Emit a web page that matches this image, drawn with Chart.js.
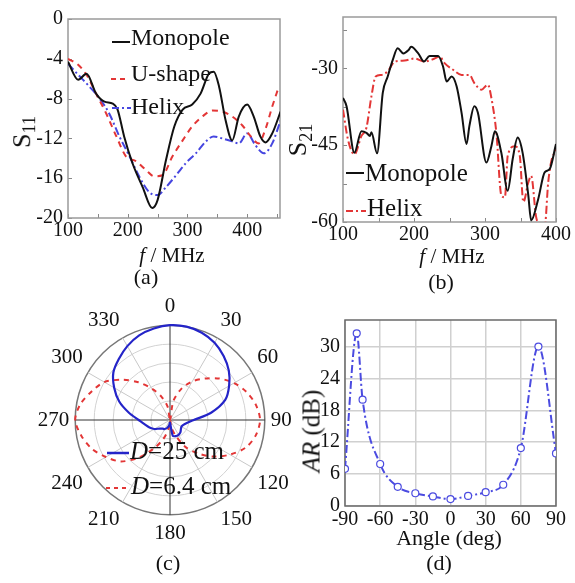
<!DOCTYPE html>
<html lang="en">
<head>
<meta charset="UTF-8">
<title>Antenna measurements</title>
<script src="https://cdn.jsdelivr.net/npm/chart.js"></script>
<style>
  body { margin: 0; background: white; }
  #fig { position: relative; width: 575px; height: 583px; overflow: hidden;
         font-family: 'Liberation Serif', 'Times New Roman', serif; color: #111; }
  canvas { position: absolute; }
  .t { position: absolute; white-space: nowrap; line-height: 1; transform: translate(-50%, -50%); }
  .l { position: absolute; white-space: nowrap; line-height: 1; transform: translateY(-50%); }
  .rot { transform: translate(-50%, -50%) rotate(-90deg); }
  .sw { position: absolute; overflow: visible; }
  sub { font-size: 70%; vertical-align: -0.3em; }
</style>
</head>
<body>
<div id="fig">
  <canvas id="ca" width="290" height="245" style="left:0;top:0"></canvas>
  <canvas id="cb" width="290" height="250" style="left:285px;top:0"></canvas>
  <canvas id="cc" width="300" height="252" style="left:15px;top:294px"></canvas>
  <canvas id="cd" width="285" height="235" style="left:290px;top:300px"></canvas>

  <!-- (a) -->
  <div class="t rot" style="left:24px;top:132px;font-size:26px">S<sub>11</sub></div>
  <div class="t" style="left:172px;top:255px;font-size:21px"><i>f</i> / MHz</div>
  <div class="t" style="left:146px;top:277px;font-size:22px">(a)</div>
  <svg class="sw" style="left:112px;top:39px" width="18" height="6"><line x1="0" y1="3" x2="18" y2="3" stroke="#111" stroke-width="2"/></svg>
  <div class="l" style="left:131px;top:37px;font-size:24px">Monopole</div>
  <svg class="sw" style="left:111px;top:76px" width="18" height="6"><line x1="0" y1="3" x2="18" y2="3" stroke="#e33636" stroke-width="2" stroke-dasharray="5,4"/></svg>
  <div class="l" style="left:131px;top:73px;font-size:24px">U-shape</div>
  <svg class="sw" style="left:112px;top:105px" width="19" height="6"><line x1="0" y1="3" x2="19" y2="3" stroke="#4646e0" stroke-width="2" stroke-dasharray="7,3,2,3"/></svg>
  <div class="l" style="left:131px;top:106px;font-size:24px">Helix</div>

  <!-- (b) -->
  <div class="t rot" style="left:300px;top:140px;font-size:26px">S<sub>21</sub></div>
  <div class="t" style="left:452px;top:256px;font-size:21px"><i>f</i> / MHz</div>
  <div class="t" style="left:441px;top:282px;font-size:22px">(b)</div>
  <svg class="sw" style="left:346px;top:170px" width="18" height="6"><line x1="0" y1="3" x2="18" y2="3" stroke="#111" stroke-width="2"/></svg>
  <div class="l" style="left:365px;top:172px;font-size:25px">Monopole</div>
  <svg class="sw" style="left:346px;top:208px" width="20" height="6"><line x1="0" y1="3" x2="20" y2="3" stroke="#e33636" stroke-width="2" stroke-dasharray="7,3,2,3"/></svg>
  <div class="l" style="left:367px;top:207px;font-size:25px">Helix</div>

  <!-- (c) -->
  <svg class="sw" style="left:107px;top:450px" width="22" height="6"><line x1="0" y1="3" x2="22" y2="3" stroke="#2424c8" stroke-width="2.5"/></svg>
  <div class="l" style="left:130px;top:450px;font-size:25px"><i>D</i>=25 cm</div>
  <svg class="sw" style="left:106px;top:485px" width="22" height="6"><line x1="0" y1="3" x2="22" y2="3" stroke="#e33636" stroke-width="2" stroke-dasharray="4,4"/></svg>
  <div class="l" style="left:131px;top:485px;font-size:25px"><i>D</i>=6.4 cm</div>
  <div class="t" style="left:168px;top:563px;font-size:22px">(c)</div>

  <!-- (d) -->
  <div class="t rot" style="left:311px;top:431px;font-size:25px"><i>AR</i> (dB)</div>
  <div class="t" style="left:449px;top:538px;font-size:22px">Angle (deg)</div>
  <div class="t" style="left:439px;top:563px;font-size:22px">(d)</div>
</div>

<script>
// (a) S11 vs frequency
const monoF = [100, 117, 131, 147, 161, 175, 183, 194, 208, 225, 241, 250, 264, 278, 292, 308, 322, 336, 344, 353, 364, 375, 386, 400, 411, 422, 431, 442, 456];
const monoS11 = [-4.3, -6.1, -5.5, -7.5, -8.3, -8.5, -9.1, -11.8, -14.5, -16.9, -19.0, -18.2, -14.2, -10.8, -9.1, -8.6, -7.5, -5.5, -5.3, -6.8, -10.2, -12.2, -9.8, -8.6, -9.8, -11.8, -12.4, -11.5, -9.3];
const ushapeF = [100, 117, 133, 147, 164, 181, 197, 214, 231, 244, 258, 275, 292, 308, 325, 342, 358, 375, 392, 406, 419, 431, 442, 453];
const ushapeS11 = [-4.0, -4.6, -5.8, -7.5, -9.5, -11.8, -13.8, -14.3, -15.2, -15.8, -15.7, -13.8, -12.2, -10.8, -9.8, -9.2, -9.3, -9.8, -10.7, -11.8, -12.5, -11.0, -8.8, -6.8];
const helixF = [100, 117, 136, 153, 169, 186, 203, 219, 236, 250, 264, 281, 297, 314, 331, 344, 358, 375, 386, 400, 414, 428, 442, 456];
const helixS11 = [-4.5, -5.6, -6.8, -8.0, -9.5, -11.8, -13.8, -15.8, -17.4, -17.7, -16.9, -15.7, -14.5, -13.5, -12.3, -11.8, -12.0, -12.3, -12.5, -11.5, -12.7, -13.5, -12.5, -10.2];

// (b) S21 vs frequency
const monoF21 = [100, 105, 116, 126, 133, 138, 140, 148, 156, 163, 170, 177, 185, 192, 196, 206, 214, 222, 234, 241, 246, 253, 260, 267, 274, 278, 285, 290, 302, 309, 314, 323, 332, 339, 346, 353, 361, 365, 375, 384, 391, 400];
const monoS21 = [-35.8, -37.4, -46.5, -42.3, -42.6, -43.2, -42.5, -46.6, -34.8, -31.6, -28.4, -26.1, -27.1, -26.5, -25.8, -27.1, -28.7, -27.6, -27.6, -29.7, -32.6, -31.6, -33.5, -38.7, -44.8, -41.3, -37.4, -38.7, -48.4, -45.2, -42.3, -46.5, -53.9, -47.7, -43.5, -46.5, -54.8, -59.7, -55.5, -50.3, -49.7, -44.8];
const helixF21 = [100, 107, 116, 126, 133, 140, 146, 154, 163, 173, 187, 201, 215, 229, 236, 243, 255, 267, 278, 285, 295, 304, 309, 316, 323, 328, 332, 342, 349, 354, 361, 365, 372, 377, 384, 389, 393, 400];
const helixS21 = [-38.1, -43.9, -46.8, -43.2, -41.6, -35.5, -31.6, -31.3, -30.6, -28.7, -28.5, -28.1, -28.7, -28.1, -27.7, -29.0, -30.3, -31.3, -31.3, -32.9, -34.2, -33.2, -35.8, -42.6, -54.8, -55.2, -47.1, -45.2, -47.1, -56.1, -52.3, -51.0, -59.0, -60.6, -61.0, -52.3, -48.4, -45.8];

// (c) radiation pattern, normalised
const polarAngles = ['0', '10', '20', '30', '40', '50', '60', '70', '80', '90', '100', '110',
  '120', '130', '140', '150', '160', '170', '180', '190', '200', '210', '220', '230',
  '240', '250', '260', '270', '280', '290', '300', '310', '320', '330', '340', '350'];
const patternD25 = [1.0, 1.0, 0.98, 0.94, 0.88, 0.81, 0.72, 0.62, 0.44, 0.25, 0.18, 0.15,
  0.14, 0.15, 0.17, 0.18, 0.18, 0.17, 0.03, 0.06, 0.09, 0.11, 0.12, 0.14,
  0.19, 0.23, 0.27, 0.33, 0.44, 0.57, 0.68, 0.78, 0.84, 0.9, 0.95, 0.98];
const patternD64 = [0.0, 0.2, 0.35, 0.47, 0.57, 0.68, 0.78, 0.86, 0.92, 0.95, 0.92, 0.85,
  0.73, 0.6, 0.46, 0.33, 0.18, 0.08, 0.0, 0.1, 0.22, 0.35, 0.52, 0.68,
  0.78, 0.88, 0.95, 1.0, 0.96, 0.88, 0.8, 0.66, 0.52, 0.38, 0.26, 0.14];

// (d) axial ratio
const arAngle = [-90, -80, -75, -60, -45, -30, -15, 0, 15, 30, 45, 60, 75, 90];
const arDb = [7.0, 32.5, 20.0, 7.9, 3.6, 2.4, 1.8, 1.3, 1.9, 2.6, 4.0, 10.9, 30.0, 9.9];

const FONT = 'Liberation Serif';
const INK = '#111';

function pts(xs, ys) {
  return xs.map((x, i) => ({ x: x, y: ys[i] }));
}

// box round the plot area, plus small inward tick marks
const framePlugin = {
  id: 'frame',
  beforeDatasetsDraw(chart, args, opts) {
    const ctx = chart.ctx;
    const a = chart.chartArea;
    ctx.save();
    if (opts.ticks) {
      ctx.strokeStyle = opts.tickColor;
      ctx.lineWidth = 1;
      const xs = chart.scales.x, ys = chart.scales.y;
      xs.ticks.forEach(t => {
        const p = Math.round(xs.getPixelForValue(t.value)) + 0.5;
        ctx.beginPath(); ctx.moveTo(p, a.bottom); ctx.lineTo(p, a.bottom - 4); ctx.stroke();
      });
      ys.ticks.forEach(t => {
        const p = Math.round(ys.getPixelForValue(t.value)) + 0.5;
        ctx.beginPath(); ctx.moveTo(a.left, p); ctx.lineTo(a.left + 4, p); ctx.stroke();
      });
    }
    ctx.strokeStyle = opts.color;
    ctx.lineWidth = opts.width;
    ctx.strokeRect(a.left, a.top, a.right - a.left, a.bottom - a.top);
    ctx.restore();
  }
};

function tickFont() {
  return { family: FONT, size: 20 };
}

// (a)
new Chart(document.getElementById('ca'), {
  type: 'line',
  data: {
    datasets: [
      { label: 'Monopole', data: pts(monoF, monoS11), borderColor: '#111', borderWidth: 2 },
      { label: 'U-shape', data: pts(ushapeF, ushapeS11), borderColor: '#e33636', borderWidth: 2, borderDash: [6, 5] },
      { label: 'Helix', data: pts(helixF, helixS11), borderColor: '#4646e0', borderWidth: 2, borderDash: [8, 3, 2, 3] }
    ]
  },
  options: {
    responsive: false,
    animation: false,
    layout: { padding: { top: 19, right: 10, left: 0, bottom: 0 } },
    elements: { point: { radius: 0 }, line: { cubicInterpolationMode: 'monotone' } },
    plugins: {
      legend: { display: false },
      tooltip: { enabled: false },
      frame: { color: '#9a9a9a', width: 1.5, ticks: true, tickColor: '#888' }
    },
    scales: {
      x: {
        type: 'linear', min: 100, max: 455,
        afterFit: s => { s.height = 27; },
        grid: { display: false, drawTicks: false },
        border: { display: false },
        ticks: {
          stepSize: 50, autoSkip: false, includeBounds: false, maxRotation: 0, padding: 1,
          font: tickFont(), color: INK,
          callback: v => (v % 100 === 0 ? v : '')
        }
      },
      y: {
        min: -20, max: 0,
        afterFit: s => { s.width = 68; },
        grid: { display: false, drawTicks: false },
        border: { display: false },
        ticks: { stepSize: 4, padding: 5, font: tickFont(), color: INK }
      }
    }
  },
  plugins: [framePlugin]
});

// (b)
new Chart(document.getElementById('cb'), {
  type: 'line',
  data: {
    datasets: [
      { label: 'Monopole', data: pts(monoF21, monoS21), borderColor: '#111', borderWidth: 2 },
      { label: 'Helix', data: pts(helixF21, helixS21), borderColor: '#e33636', borderWidth: 2, borderDash: [8, 3, 2, 3] }
    ]
  },
  options: {
    responsive: false,
    animation: false,
    layout: { padding: { top: 17, right: 19, left: 0, bottom: 0 } },
    elements: { point: { radius: 0 }, line: { cubicInterpolationMode: 'monotone' } },
    plugins: {
      legend: { display: false },
      tooltip: { enabled: false },
      frame: { color: '#9a9a9a', width: 1.5, ticks: true, tickColor: '#888' }
    },
    scales: {
      x: {
        type: 'linear', min: 100, max: 400,
        afterFit: s => { s.height = 28; },
        grid: { display: false, drawTicks: false },
        border: { display: false },
        ticks: {
          stepSize: 50, autoSkip: false, includeBounds: false, maxRotation: 0, padding: 1,
          font: tickFont(), color: INK,
          callback: v => (v % 100 === 0 ? v : '')
        }
      },
      y: {
        min: -60, max: -20,
        afterFit: s => { s.width = 58; },
        grid: { display: false, drawTicks: false },
        border: { display: false },
        ticks: {
          stepSize: 7.5, includeBounds: false, padding: 5, font: tickFont(), color: INK,
          callback: v => ((v + 60) % 15 === 0 ? v : '')
        }
      }
    }
  },
  plugins: [framePlugin]
});

// (c)
new Chart(document.getElementById('cc'), {
  type: 'radar',
  data: {
    labels: polarAngles,
    datasets: [
      { label: 'D=25 cm', data: patternD25, borderColor: '#2424c8', borderWidth: 2.2, fill: false },
      { label: 'D=6.4 cm', data: patternD64, borderColor: '#e33636', borderWidth: 2, borderDash: [5, 5], fill: false }
    ]
  },
  options: {
    responsive: false,
    animation: false,
    elements: { point: { radius: 0 }, line: { tension: 0.3 } },
    plugins: { legend: { display: false }, tooltip: { enabled: false } },
    scales: {
      r: {
        min: 0, max: 1,
        ticks: { display: false, stepSize: 0.2 },
        grid: {
          circular: true,
          color: c => (c.index === 5 ? '#777' : '#d2d2d2'),
          lineWidth: c => (c.index === 5 ? 1.5 : 1)
        },
        angleLines: {
          color: c => (c.index % 9 === 0 ? '#333' : (c.index % 3 === 0 ? '#c8c8c8' : 'rgba(0,0,0,0)')),
          lineWidth: 1
        },
        pointLabels: {
          font: { family: FONT, size: 21 }, color: INK, padding: 6,
          callback: (l, i) => (i % 3 === 0 ? l : '')
        }
      }
    }
  }
});

// (d)
new Chart(document.getElementById('cd'), {
  type: 'line',
  data: {
    datasets: [{
      label: 'AR',
      data: pts(arAngle, arDb),
      borderColor: '#4b4be0', borderWidth: 2, borderDash: [8, 3, 2, 3],
      pointRadius: 3.5, pointBorderWidth: 1.2,
      pointBackgroundColor: '#fff', pointBorderColor: '#4b4be0'
    }]
  },
  options: {
    responsive: false,
    animation: false,
    layout: { padding: { top: 20, right: 19, left: 0, bottom: 0 } },
    elements: { line: { cubicInterpolationMode: 'monotone' } },
    plugins: {
      legend: { display: false },
      tooltip: { enabled: false },
      frame: { color: '#6a6a6a', width: 1.5, ticks: false }
    },
    scales: {
      x: {
        type: 'linear', min: -90, max: 90,
        afterFit: s => { s.height = 29; },
        grid: { color: '#d0d0d0', lineWidth: 1.5, drawTicks: false },
        border: { display: false },
        ticks: { stepSize: 30, autoSkip: false, maxRotation: 0, padding: 2, font: tickFont(), color: INK }
      },
      y: {
        min: 0, max: 35,
        afterFit: s => { s.width = 55; },
        grid: { color: '#d0d0d0', lineWidth: 1.5, drawTicks: false },
        border: { display: false },
        ticks: { stepSize: 6, includeBounds: false, padding: 5, font: tickFont(), color: INK }
      }
    }
  },
  plugins: [framePlugin]
});
</script>
</body>
</html>
